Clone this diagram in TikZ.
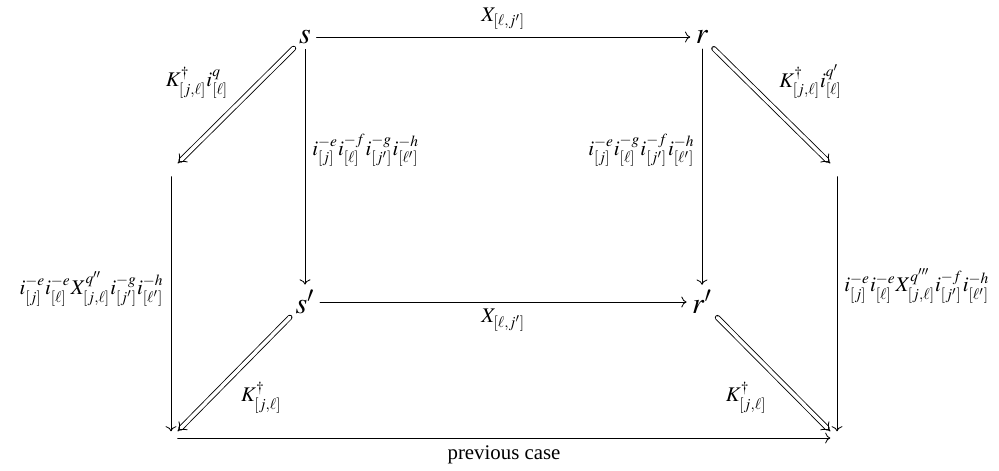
\documentclass[tikz,border=0pt]{standalone}
\usepackage{mathptmx}
\usepackage{fontspec}
\setmainfont{Liberation Serif}
\usetikzlibrary{arrows.meta}

\begin{document}
\begin{tikzpicture}[x=0.48pt,y=-0.48pt,>={Computer Modern Rightarrow},line cap=round,
  obj/.style={font=\Large,inner sep=2.5pt},
  hole/.style={inner sep=3pt},
  imp/.style={double,double distance=1.7pt,-Implies}]
\useasboundingbox (0,0) rectangle (999,470);
\node[obj] (s) at (305,37) {$s$};
\node[obj] (r) at (702,37) {$r$};
\node[obj] (sp) at (305,302) {$s'$};
\node[obj] (rp) at (702,302) {$r'$};
\node[hole] (lt) at (171,170) {};
\node[hole] (rt) at (837,170) {};
\node[hole] (bl) at (171,438) {};
\node[hole] (br) at (837,438) {};
% top face
\draw[->] (s) -- node[above] {$X_{[\ell,j']}$} (r);
\draw[->] (s) -- node[pos=0.43,right] {$i^{-e}_{[j]}i^{-f}_{[\ell]}i^{-g}_{[j']}i^{-h}_{[\ell']}$} (sp);
\draw[->] (r) -- node[pos=0.43,left] {$i^{-e}_{[j]}i^{-g}_{[\ell]}i^{-f}_{[j']}i^{-h}_{[\ell']}$} (rp);
\draw[->] (sp) -- node[below] {$X_{[\ell,j']}$} (rp);
% diagonals
\draw[imp] (s) -- node[above left] {$K^{\dagger}_{[j,\ell]}i^{q}_{[\ell]}$} (lt);
\draw[imp] (r) -- node[above right] {$K^{\dagger}_{[j,\ell]}i^{q'}_{[\ell]}$} (rt);
\draw[imp] (sp) -- node[below right] {$K^{\dagger}_{[j,\ell]}$} (bl);
\draw[imp] (rp) -- node[below left] {$K^{\dagger}_{[j,\ell]}$} (br);
% outer face
\draw[->] (lt) -- node[pos=0.44,left] {$i^{-e}_{[j]}i^{-e}_{[\ell]}X^{q''}_{[j,\ell]}i^{-g}_{[j']}i^{-h}_{[\ell']}$} (bl);
\draw[->] (rt) -- node[pos=0.43,right] {$i^{-e}_{[j]}i^{-e}_{[\ell]}X^{q'''}_{[j,\ell]}i^{-f}_{[j']}i^{-h}_{[\ell']}$} (br);
\draw[->] (bl) -- node[below] {previous case} (br);
\end{tikzpicture}
\end{document}
